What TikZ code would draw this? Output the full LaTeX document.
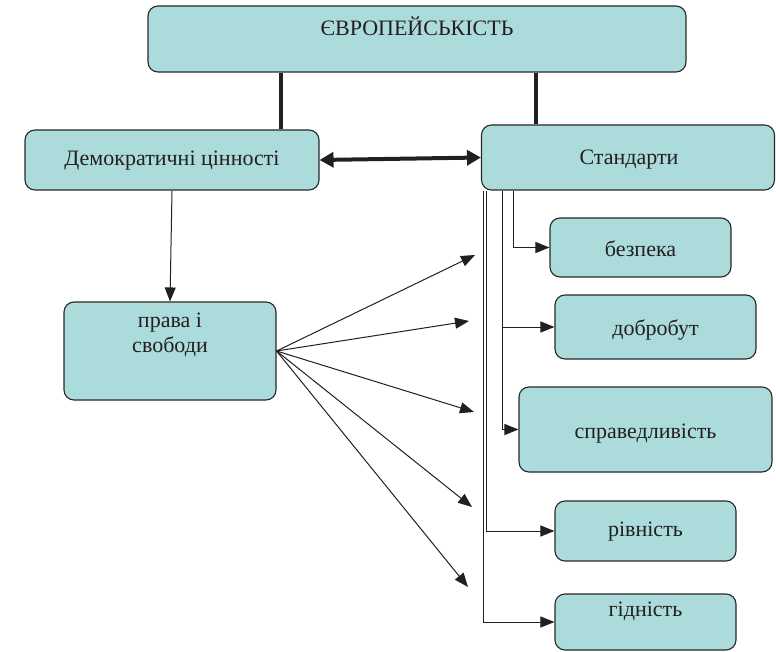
\documentclass[tikz,border=0pt]{standalone}
\usepackage{fontspec}
\setmainfont{Liberation Serif}
\usetikzlibrary{arrows.meta}
\definecolor{boxfill}{RGB}{172,219,220}
\definecolor{edge}{RGB}{40,40,40}
\definecolor{ink}{RGB}{35,31,32}
\tikzset{
  box/.style={draw=edge, fill=boxfill, rounded corners=10pt, line width=1.1pt, inner sep=0pt},
  txt/.style={text=ink, font=\fontsize{22}{25}\selectfont, inner sep=0pt, align=center},
  thick link/.style={draw=ink, line width=4pt},
  thin arrow/.style={draw=ink, line width=1pt, -{Triangle[length=14pt,width=11pt]}},
  big arrow/.style={draw=ink, line width=4pt, {Triangle[length=14pt,width=15pt]}-{Triangle[length=14pt,width=15pt]}}
}
\begin{document}
\begin{tikzpicture}[x=1pt,y=-1pt]
\useasboundingbox (0,0) rectangle (776,652);
% boxes
\node[box, minimum width=538pt, minimum height=66pt] (eu) at (417,39) {};
\node[txt] (eut) at (417,26) {ЄВРОПЕЙСЬКІСТЬ};
\node[box, minimum width=294pt, minimum height=60pt] (dem) at (172,160) {};
\node[txt] (demt) at (172,161) {Демократичні цінності};
\node[box, minimum width=293pt, minimum height=65pt] (std) at (628,157.5) {};
\node[txt] (stdt) at (629,160) {Стандарти};
\node[box, minimum width=212pt, minimum height=98pt] (prava) at (170,351) {};
\node[txt] (pravat) at (170,335) {права і\\свободи};
\node[box, minimum width=181pt, minimum height=59pt] (bez) at (640.5,247.5) {};
\node[txt] (bezt) at (640.5,249) {безпека};
\node[box, minimum width=201pt, minimum height=64pt] (dob) at (655.5,327) {};
\node[txt] (dobt) at (655.5,330) {добробут};
\node[box, minimum width=253pt, minimum height=85pt] (spr) at (645.5,429.5) {};
\node[txt] (sprt) at (645.5,434) {справедливість};
\node[box, minimum width=181pt, minimum height=60pt] (riv) at (645.5,531) {};
\node[txt] (rivt) at (645.5,532) {рівність};
\node[box, minimum width=181pt, minimum height=56pt] (gid) at (645.5,622) {};
\node[txt] (gidt) at (645.5,611) {гідність};
% thick links from top box
\coordinate (t1) at (281,0);
\coordinate (t2) at (536,0);
\draw[thick link] (eu.south -| t1) -- (dem.north -| t1);
\draw[thick link] (eu.south -| t2) -- (std.north -| t2);
% double arrow
\draw[big arrow] (dem.east) -- (std.west);
% dem -> prava
\draw[thin arrow] (dem.south) -- (prava.north);
% fan arrows
\coordinate (f1) at (475,255);
\coordinate (f2) at (469,321);
\coordinate (f3) at (474,412);
\coordinate (f4) at (472,507);
\coordinate (f5) at (468,587);
\foreach \f in {f1,f2,f3,f4,f5} \draw[thin arrow] (prava.east) -- (\f);
% elbow connectors from standards
\coordinate (b1) at (513,0);
\coordinate (b2) at (502,0);
\coordinate (b3) at (486.5,0);
\coordinate (b4) at (483,0);
\draw[thin arrow] (std.south -| b1) |- (bez.west);
\draw[thin arrow] (std.south -| b2) |- (dob.west);
\draw[thin arrow] (std.south -| b2) |- (spr.west);
\draw[thin arrow] (std.south -| b3) |- (riv.west);
\draw[thin arrow] (std.south -| b4) |- (gid.west);
\end{tikzpicture}
\end{document}
